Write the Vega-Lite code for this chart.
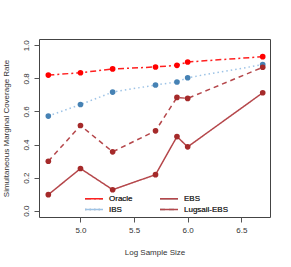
{
  "$schema": "https://vega.github.io/schema/vega-lite/v6.json",
  "autosize": "none",
  "width": 231,
  "height": 178,
  "padding": {"left": 39, "top": 39, "right": 21, "bottom": 50},
  "background": "white",
  "config": {
    "font": "Liberation Sans",
    "view": {"stroke": "#444", "strokeWidth": 1},
    "axis": {"grid": false, "domain": false, "tickColor": "#555", "tickSize": 5, "labelFontSize": 8, "titleFontSize": 8, "labelColor": "#333", "titleColor": "#333", "titleFontWeight": "normal", "labelFont": "Liberation Sans", "titleFont": "Liberation Sans"},
    "legend": {"labelFontWeight": "normal"}
  },
  "data": {
    "values": [
      {"method": "Oracle", "x": 4.7, "y": 0.820},
      {"method": "Oracle", "x": 5.0, "y": 0.834},
      {"method": "Oracle", "x": 5.3, "y": 0.857},
      {"method": "Oracle", "x": 5.7, "y": 0.869},
      {"method": "Oracle", "x": 5.9, "y": 0.879},
      {"method": "Oracle", "x": 6.0, "y": 0.899},
      {"method": "Oracle", "x": 6.7, "y": 0.931},
      {"method": "IBS", "x": 4.7, "y": 0.572},
      {"method": "IBS", "x": 5.0, "y": 0.642},
      {"method": "IBS", "x": 5.3, "y": 0.717},
      {"method": "IBS", "x": 5.7, "y": 0.760},
      {"method": "IBS", "x": 5.9, "y": 0.778},
      {"method": "IBS", "x": 6.0, "y": 0.804},
      {"method": "IBS", "x": 6.7, "y": 0.883},
      {"method": "Lugsail-EBS", "x": 4.7, "y": 0.299},
      {"method": "Lugsail-EBS", "x": 5.0, "y": 0.515},
      {"method": "Lugsail-EBS", "x": 5.3, "y": 0.356},
      {"method": "Lugsail-EBS", "x": 5.7, "y": 0.483},
      {"method": "Lugsail-EBS", "x": 5.9, "y": 0.685},
      {"method": "Lugsail-EBS", "x": 6.0, "y": 0.679},
      {"method": "Lugsail-EBS", "x": 6.7, "y": 0.867},
      {"method": "EBS", "x": 4.7, "y": 0.097},
      {"method": "EBS", "x": 5.0, "y": 0.255},
      {"method": "EBS", "x": 5.3, "y": 0.127},
      {"method": "EBS", "x": 5.7, "y": 0.218},
      {"method": "EBS", "x": 5.9, "y": 0.448},
      {"method": "EBS", "x": 6.0, "y": 0.386},
      {"method": "EBS", "x": 6.7, "y": 0.713}
    ]
  },
  "encoding": {
    "x": {"field": "x", "type": "quantitative",
      "scale": {"domain": [4.613, 6.768], "nice": false, "zero": false},
      "axis": {"values": [5.0, 5.5, 6.0, 6.5], "format": ".1f", "title": "Log Sample Size", "labelPadding": 4, "titlePadding": 14}},
    "y": {"field": "y", "type": "quantitative",
      "scale": {"domain": [-0.038, 1.038], "nice": false, "zero": false},
      "axis": {"values": [0, 0.2, 0.4, 0.6, 0.8, 1.0], "format": ".1f", "title": "Simultaneous Marginal Coverage Rate", "labelAngle": -90, "labelAlign": "center", "labelBaseline": "bottom", "labelPadding": 4, "titlePadding": 12}}
  },
  "layer": [
    {
      "mark": {"type": "line", "strokeWidth": 1.5},
      "encoding": {
        "color": {"field": "method", "type": "nominal",
          "scale": {"domain": ["Oracle", "IBS", "EBS", "Lugsail-EBS"], "range": ["#FF2020", "#9DC3E6", "#B5474B", "#B5474B"]},
          "legend": {"title": null, "orient": "none", "legendX": 45, "legendY": 154, "columns": 2, "columnPadding": 24, "rowPadding": 1, "symbolType": "M-1,0H3", "symbolSize": 81, "symbolStrokeWidth": 1.5, "labelFontSize": 8, "labelColor": "#333", "labelOffset": 14, "labelFont": "Liberation Sans"}},
        "strokeDash": {"field": "method", "type": "nominal",
          "scale": {"domain": ["Oracle", "IBS", "EBS", "Lugsail-EBS"], "range": [[6, 3, 2, 3], [1.5, 3], [1, 0], [5, 4]]},
          "legend": {"title": null, "orient": "none", "legendX": 45, "legendY": 154, "columns": 2, "columnPadding": 24, "rowPadding": 1, "symbolType": "M-1,0H3", "symbolSize": 81, "symbolStrokeWidth": 1.5, "labelFontSize": 8, "labelColor": "#333", "labelOffset": 14, "labelFont": "Liberation Sans"}}
      }
    },
    {
      "mark": {"type": "circle", "size": 32, "opacity": 1},
      "encoding": {
        "color": {"field": "method", "type": "nominal",
          "scale": {"domain": ["Oracle", "IBS", "EBS", "Lugsail-EBS"], "range": ["#FF0000", "#4682B4", "#A52A2A", "#A52A2A"]},
          "legend": null}
      }
    }
  ],
  "resolve": {"scale": {"color": "independent"}}
}
